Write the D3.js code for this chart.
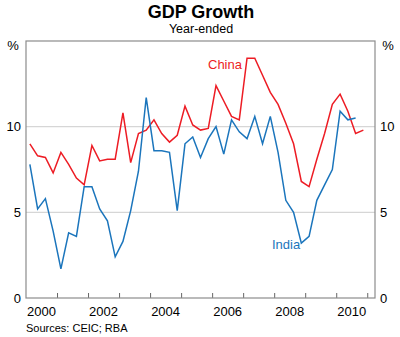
<!DOCTYPE html>
<html>
<head>
<meta charset="utf-8">
<script src="https://cdn.jsdelivr.net/npm/d3@7"></script>
<style>
  html, body { margin: 0; padding: 0; background: #fff; }
  svg { display: block; font-family: "Liberation Sans", Arial, sans-serif; }
</style>
</head>
<body>
<svg id="chart" width="400" height="337"></svg>
<script>
// Year-ended GDP growth, quarterly, from the March quarter 2000
const firstYear = 2000;
const china = [9.0, 8.3, 8.2, 7.3, 8.5, 7.8, 7.0, 6.6, 8.9, 8.0, 8.1, 8.1,
  10.8, 7.9, 9.6, 9.8, 10.4, 9.6, 9.1, 9.5, 11.2, 10.1, 9.8, 9.9,
  12.4, 11.5, 10.6, 10.4, 14.0, 14.0, 13.0, 12.0, 11.3, 10.2, 9.0, 6.8,
  6.5, 8.1, 9.6, 11.3, 11.9, 10.9, 9.6, 9.8];
const india = [7.8, 5.2, 5.8, 3.9, 1.7, 3.8, 3.6, 6.5, 6.5, 5.2, 4.5, 2.4,
  3.3, 5.1, 7.4, 11.7, 8.6, 8.6, 8.5, 5.1, 9.0, 9.4, 8.2, 9.3,
  10.0, 8.4, 10.4, 9.7, 9.3, 10.6, 9.0, 10.6, 8.5, 5.7, 5.0, 3.2,
  3.6, 5.7, 6.6, 7.5, 10.9, 10.4, 10.5];
const yTicks = [0, 5, 10];
const yearLabels = [2000, 2002, 2004, 2006, 2008, 2010];
const yearTicks = [2001, 2002, 2003, 2004, 2005, 2006, 2007, 2008, 2009, 2010, 2011];

const svg = d3.select("#chart");
const plotL = 26, plotR = 375, plotT = 41, plotB = 298;

const x = d3.scaleLinear().domain([2000, 2011.25]).range([plotL, plotR]);
const y = d3.scaleLinear().domain([0, 15]).range([plotB, plotT]);

// quarter mid-points
const qx = i => x(firstYear + (i + 0.5) / 4);

// titles
svg.append("text").attr("x", 201).attr("y", 18).attr("text-anchor", "middle")
  .attr("font-size", 18).attr("font-weight", "bold").attr("fill", "#000").text("GDP Growth");
svg.append("text").attr("x", 201).attr("y", 33).attr("text-anchor", "middle")
  .attr("font-size", 12.5).attr("fill", "#000").text("Year-ended");

// gridlines
svg.append("g").selectAll("line").data(yTicks.filter(d => d > 0)).join("line")
  .attr("x1", plotL).attr("x2", plotR)
  .attr("y1", d => y(d)).attr("y2", d => y(d))
  .attr("stroke", "#d6d6d6").attr("stroke-width", 1.2);

// y axes: labels only
const yLeft = d3.axisLeft(y).tickValues(yTicks).tickSize(0).tickPadding(5).tickFormat(d3.format("d"));
const yRight = d3.axisRight(y).tickValues(yTicks).tickSize(0).tickPadding(5).tickFormat(d3.format("d"));
const gl = svg.append("g").attr("transform", `translate(${plotL},0)`).call(yLeft);
const gr = svg.append("g").attr("transform", `translate(${plotR},0)`).call(yRight);
[gl, gr].forEach(g => {
  g.select(".domain").remove();
  g.selectAll("text").attr("font-size", 13).attr("fill", "#000")
    .attr("font-family", "Liberation Sans, Arial, sans-serif");
});

svg.append("text").attr("x", 13).attr("y", 50).attr("text-anchor", "middle")
  .attr("font-size", 13).text("%");
svg.append("text").attr("x", 388).attr("y", 50).attr("text-anchor", "middle")
  .attr("font-size", 13).text("%");

// x axis: inward ticks at year starts, labels at mid-year
const xAxis = d3.axisBottom(x).tickValues(yearTicks).tickSize(-5).tickFormat("");
const gx = svg.append("g").attr("transform", `translate(0,${plotB})`).call(xAxis);
gx.select(".domain").remove();
gx.selectAll("line").attr("stroke", "#666").attr("stroke-width", 1);

svg.append("g").selectAll("text").data(yearLabels).join("text")
  .attr("x", d => x(d + 0.5)).attr("y", 316).attr("text-anchor", "middle")
  .attr("font-size", 13).attr("fill", "#000").text(d => d);

// series
const line = d3.line().x((d, i) => qx(i)).y(d => y(d));
svg.append("path").datum(china).attr("d", line)
  .attr("fill", "none").attr("stroke", "#ed1c24").attr("stroke-width", 1.5)
  .attr("stroke-linejoin", "miter");
svg.append("path").datum(india).attr("d", line)
  .attr("fill", "none").attr("stroke", "#1b75bc").attr("stroke-width", 1.5)
  .attr("stroke-linejoin", "miter");

// series labels
svg.append("text").attr("x", 208).attr("y", 69).attr("font-size", 13)
  .attr("fill", "#ed1c24").text("China");
svg.append("text").attr("x", 272).attr("y", 249).attr("font-size", 13)
  .attr("fill", "#1b75bc").text("India");

// plot frame
svg.append("rect").attr("x", plotL).attr("y", plotT)
  .attr("width", plotR - plotL).attr("height", plotB - plotT)
  .attr("fill", "none").attr("stroke", "#8c8c8c").attr("stroke-width", 1.2);

// source note
svg.append("text").attr("x", 26).attr("y", 332).attr("font-size", 11)
  .attr("fill", "#000").text("Sources: CEIC; RBA");
</script>
</body>
</html>
